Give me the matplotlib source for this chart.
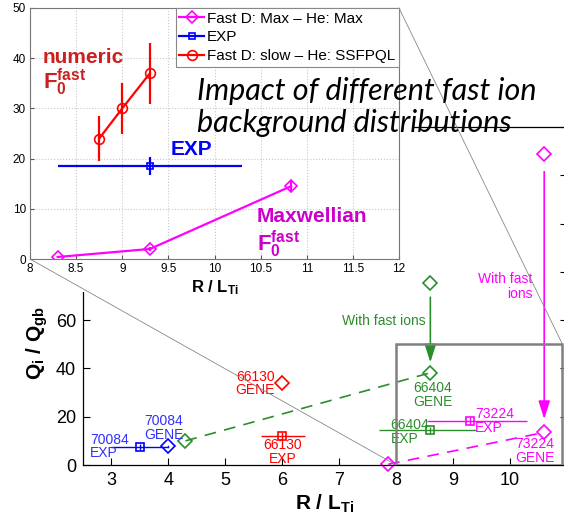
import numpy as np
import matplotlib.pyplot as plt
from matplotlib.patches import Rectangle, ConnectionPatch

plt.rcParams['font.family'] = ['Liberation Sans', 'DejaVu Sans']
plt.rcParams['mathtext.fontset'] = 'custom'
plt.rcParams['mathtext.rm'] = 'Liberation Sans'
plt.rcParams['mathtext.it'] = 'Liberation Sans:italic'
plt.rcParams['mathtext.bf'] = 'Liberation Sans:bold'

# ---- main panel data (R/L_Ti, Q_i/Q_gb) ----
exp_70084 = [3.5, 7.5]
exp_70084_xerr = [0.5, 0.5]
gene_70084 = [4.0, 7.7]
exp_66130 = [6.0, 12.2]
exp_66130_xerr = [0.38, 0.4]
gene_66130 = [6.0, 34.0]
green_x = [4.3, 8.6]          # 66404 GENE, dashed line
green_y = [10.0, 38.2]
green_nofast = [8.6, 75.5]
exp_66404 = [8.6, 14.3]
exp_66404_xerr = [0.9, 0.8]
mag_x = [7.86, 10.6]          # 73224 GENE, dashed line
mag_y = [0.3, 13.5]
mag_nofast = [10.6, 128.7]
exp_73224 = [9.3, 18.2]
exp_73224_xerr = [0.75, 1.0]

# ---- inset data ----
max_x = [8.3, 9.3, 10.83]
max_y = [0.4, 2.0, 14.5]
max_err = [0.2, 0.4, 1.0]
exp_x = [9.3]
exp_y = [18.6]
exp_xerr = [1.0]
exp_yerr = [1.8]
slow_x = [8.75, 9.0, 9.3]
slow_y = [24.0, 30.0, 37.0]
slow_err = [4.5, 5.1, 6.1]

GREEN = '#2a8f2a'
MAG = '#ff00ff'
RED = '#ff0000'
BLUE = '#0000ff'

W, H = 564, 518
fig = plt.figure(figsize=(W / 100, H / 100), dpi=100)

def px_box(l, t, r, b):
    return [l / W, 1 - b / H, (r - l) / W, (b - t) / H]

# ================= main axes =================
ax = fig.add_axes(px_box(83, 127, 567, 465))
ax.set_zorder(0)
ax.set_xlim(2.5, 11)
ax.set_ylim(0, 140)
ax.set_xticks(range(3, 11))
ax.set_yticks(range(0, 141, 20))
ax.tick_params(direction='in', labelsize=13, right=True, length=5, pad=5)
for s in ax.spines.values():
    s.set_linewidth(0.9)

mk = dict(fillstyle='none', markeredgewidth=1.2)
# 70084
ax.errorbar(exp_70084[0], exp_70084[1], xerr=[[exp_70084_xerr[0]], [exp_70084_xerr[1]]],
            yerr=1.2, fmt='s', color=BLUE, ms=6, lw=1, capsize=0, **mk)
ax.plot([exp_70084[0] + exp_70084_xerr[1], gene_70084[0]], [exp_70084[1], gene_70084[1]],
        color=BLUE, lw=1)
ax.plot(*gene_70084, 'D', color=BLUE, ms=7, **mk)
# 66130
ax.errorbar(exp_66130[0], exp_66130[1], xerr=[[exp_66130_xerr[0]], [exp_66130_xerr[1]]],
            yerr=1.5, fmt='s', color=RED, ms=6, lw=1, capsize=0, **mk)
ax.plot(*gene_66130, 'D', color=RED, ms=7, **mk)
# 66404
ax.plot(green_x, green_y, '--', color=GREEN, lw=1.2, dashes=(7, 5))
ax.plot(green_x, green_y, 'D', color=GREEN, ms=7, **mk)
ax.plot(*green_nofast, 'D', color=GREEN, ms=7, **mk)
ax.errorbar(exp_66404[0], exp_66404[1], xerr=[[exp_66404_xerr[0]], [exp_66404_xerr[1]]],
            yerr=1.5, fmt='s', color=GREEN, ms=6, lw=1, capsize=0, **mk)
ax.annotate('', xy=(8.6, 42.5), xytext=(8.6, 69.5),
            arrowprops=dict(arrowstyle='-|>,head_length=1.1,head_width=0.35',
                            color=GREEN, lw=1.2, shrinkA=0, shrinkB=0))
# 73224
ax.plot(mag_x, mag_y, '--', color=MAG, lw=1.2, dashes=(7, 5))
ax.plot(mag_x, mag_y, 'D', color=MAG, ms=7, clip_on=False, **mk)
ax.plot(*mag_nofast, 'D', color=MAG, ms=7, **mk)
ax.errorbar(exp_73224[0], exp_73224[1], xerr=[[exp_73224_xerr[0]], [exp_73224_xerr[1]]],
            yerr=1.5, fmt='s', color=MAG, ms=6, lw=1, capsize=0, **mk)
ax.annotate('', xy=(10.6, 19), xytext=(10.6, 121.5),
            arrowprops=dict(arrowstyle='-|>,head_length=1.1,head_width=0.35',
                            color=MAG, lw=1.2, shrinkA=0, shrinkB=0))

lab = dict(fontsize=10, linespacing=0.95, va='center')
ax.text(2.62, 7.7, '70084\nEXP', color='#3030ff', ha='left', **lab)
ax.text(3.57, 15.3, '70084\nGENE', color='#3030ff', ha='left', **lab)
ax.text(5.87, 33.8, '66130\nGENE', color=RED, ha='right', **lab)
ax.text(6.0, 5.4, '66130\nEXP', color=RED, ha='center', **lab)
ax.text(8.3, 29.0, '66404\nGENE', color=GREEN, ha='left', **lab)
ax.text(7.9, 13.7, '66404\nEXP', color=GREEN, ha='left', **lab)
ax.text(9.39, 18.3, '73224\nEXP', color=MAG, ha='left', **lab)
ax.text(10.43, 5.8, '73224\nGENE', color=MAG, ha='center', **lab)
ax.text(8.52, 59.6, 'With fast ions', color=GREEN, ha='right', va='center', fontsize=10)
ax.text(10.39, 74.0, 'With fast\nions', color=MAG, ha='right', va='center', fontsize=10,
        linespacing=1.05, multialignment='right')

# zoom rectangle
ax.add_patch(Rectangle((8, 0), 2.92, 50, fill=False, edgecolor='#808080', lw=1.8, zorder=4))

ax.set_xlabel(r'$\mathbf{R\ /\ L_{Ti}}$', fontsize=15, labelpad=3)
fig.text(37 / W, 1 - 343 / H, r'$\mathbf{Q_i\ /\ Q_{gb}}$', rotation=90, fontsize=15,
         ha='center', va='center')

# white block behind the inset
fig.add_artist(Rectangle((0, 1 - 292 / H), 412 / W, 292 / H, transform=fig.transFigure,
                         facecolor='white', edgecolor='none', zorder=1))

# ================= inset axes =================
ai = fig.add_axes(px_box(30, 8, 399, 259))
ai.set_zorder(2)
ai.set_xlim(8, 12)
ai.set_ylim(0, 50)
ai.set_xticks(np.arange(8, 12.01, 0.5))
ai.set_xticklabels(['8', '8.5', '9', '9.5', '10', '10.5', '11', '11.5', '12'])
ai.set_yticks(range(0, 51, 10))
ai.tick_params(direction='in', labelsize=8.5, length=3, pad=3, colors='#555555', labelcolor='black')
ai.grid(True, linestyle=':', color='#c8c8c8', lw=0.8)
for s in ai.spines.values():
    s.set_color('#777777')
    s.set_linewidth(0.8)

ai.plot(max_x, max_y, '-D', color=MAG, lw=1.6, ms=6, label='Fast D: Max \u2013 He: Max', **mk)
ai.errorbar(max_x, max_y, yerr=max_err, fmt='none', ecolor=MAG, lw=1.6, capsize=0)
ai.plot(exp_x, exp_y, '-s', color=BLUE, lw=1.6, ms=5, label='EXP', **mk)
ai.errorbar(exp_x, exp_y, xerr=exp_xerr, yerr=exp_yerr, fmt='none', ecolor=BLUE, lw=1.6, capsize=0)
ai.plot(slow_x, slow_y, '-o', color=RED, lw=1.6, ms=7, label='Fast D: slow \u2013 He: SSFPQL', **mk)
ai.errorbar(slow_x, slow_y, yerr=slow_err, fmt='none', ecolor=RED, lw=1.6, capsize=0)

leg = ai.legend(loc='upper right', borderaxespad=0, fontsize=11, handlelength=1.6,
                handletextpad=0.2, labelspacing=0.3, fancybox=False, framealpha=1,
                borderpad=0.25)
leg.get_frame().set_edgecolor('#888888')
leg.get_frame().set_linewidth(0.8)

ai.text(8.14, 40.2, 'numeric', color='#cc1f1f', fontsize=15, fontweight='bold', va='center')
ai.text(8.14, 33.8, r'$\mathbf{F_0^{fast}}$', color='#cc1f1f', fontsize=16, va='baseline')
ai.text(9.52, 21.8, 'EXP', color=BLUE, fontsize=15, fontweight='bold', va='center')
ai.text(10.46, 8.5, 'Maxwellian', color='#cc00cc', fontsize=15, fontweight='bold', va='center')
ai.text(10.46, 1.5, r'$\mathbf{F_0^{fast}}$', color='#cc00cc', fontsize=16, va='baseline')
ai.set_xlabel(r'$\mathbf{R\ /\ L_{Ti}}$', fontsize=12, labelpad=2)

# connecting lines
for a_pt, b_pt in [((8, 0), (8, 0)), ((12, 50), (10.92, 50))]:
    con = ConnectionPatch(xyA=a_pt, coordsA=ai.transData, xyB=b_pt, coordsB=ax.transData,
                          color='#888888', lw=0.6, zorder=5)
    fig.add_artist(con)

# slide title
title_kw = dict(fontsize=22, style='italic', family=['Lato', 'DejaVu Sans'],
                ha='left', va='baseline', zorder=6)
fig.text(197 / W, 1 - 100 / H, 'Impact of different fast ion', **title_kw)
fig.text(197 / W, 1 - 132 / H, 'background distributions', **title_kw)

fig.savefig('out.png', dpi=100)
